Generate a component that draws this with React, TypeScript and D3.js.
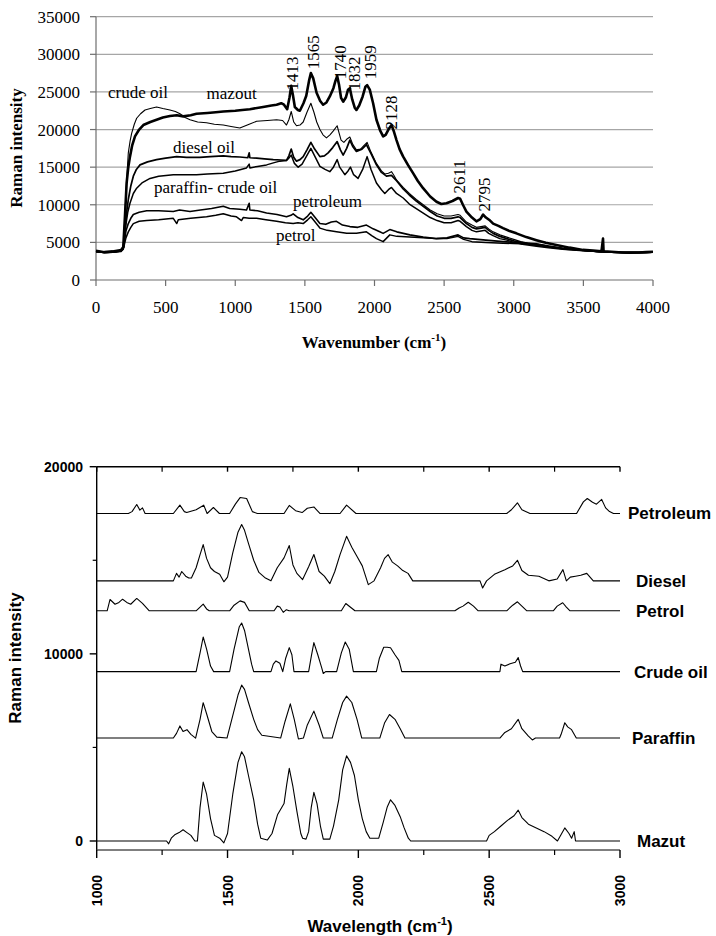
import React from "react";
import * as d3 from "d3";

type P = [number, number];

// ---------- Top chart: Raman intensity vs wavenumber ----------
const topXTicks = [0, 500, 1000, 1500, 2000, 2500, 3000, 3500, 4000];
const topYTicks = [0, 5000, 10000, 15000, 20000, 25000, 30000, 35000];

const mazoutTop: P[] = [[0,3900],[60,3700],[120,3800],[180,4000],[196,4400],[208,8500],[220,12900],[232,15000],[244,16400],[260,17900],[280,19100],[310,20000],[340,20600],[390,21000],[435,21300],[480,21600],[531,21800],[580,21900],[627,21750],[680,21900],[722,22100],[800,22200],[860,22300],[914,22400],[1000,22500],[1050,22600],[1105,22700],[1200,23000],[1260,23200],[1297,23300],[1330,23500],[1350,23300],[1373,22700],[1390,24300],[1402,25800],[1415,24500],[1428,23000],[1450,22600],[1464,22500],[1490,23500],[1510,24500],[1530,26500],[1543,27500],[1560,26800],[1584,24900],[1610,23800],[1631,23300],[1655,23600],[1679,24400],[1705,25500],[1720,26500],[1732,27100],[1745,26000],[1760,24200],[1775,23700],[1795,24300],[1810,25300],[1823,25500],[1840,24000],[1858,22900],[1870,22600],[1890,23200],[1915,24400],[1935,25700],[1947,25900],[1966,25300],[1990,23500],[2014,21300],[2040,19900],[2062,19100],[2080,19300],[2100,20000],[2122,20600],[2140,19700],[2158,18600],[2180,17400],[2206,16400],[2240,15300],[2277,14200],[2310,13200],[2349,12200],[2400,11100],[2445,10400],[2480,10100],[2517,10200],[2560,10500],[2600,10900],[2615,10800],[2635,10000],[2660,9100],[2700,8300],[2732,7800],[2760,8100],[2780,8700],[2800,8300],[2830,7900],[2852,7500],[2890,7200],[2923,6900],[2970,6500],[3019,6200],[3090,5700],[3163,5300],[3230,4950],[3306,4660],[3400,4300],[3497,4000],[3570,3900],[3630,3800],[3641,5500],[3645,3800],[3700,3750],[3780,3650],[3832,3640],[3900,3650],[3950,3700],[4000,3750]];

const crudeTop: P[] = [[0,3850],[60,3650],[120,3750],[180,3950],[196,4400],[205,7500],[215,11500],[225,14800],[232,16900],[245,18500],[256,19500],[275,20700],[292,21500],[320,22100],[352,22600],[390,22800],[435,23000],[480,22800],[531,22600],[570,22400],[603,22100],[640,21600],[675,21300],[730,21000],[794,20900],[850,20700],[914,20600],[970,20400],[1033,20200],[1100,20700],[1153,21100],[1230,21200],[1297,21300],[1340,21200],[1368,20600],[1385,21300],[1402,22400],[1420,21000],[1440,20500],[1465,20600],[1488,21000],[1515,22300],[1543,23500],[1565,22300],[1585,21000],[1608,20000],[1630,19300],[1655,18900],[1680,19300],[1703,19800],[1732,20500],[1745,19600],[1760,18600],[1780,18300],[1800,18700],[1823,19000],[1845,18000],[1870,17300],[1900,17400],[1925,17900],[1947,18300],[1975,17000],[2014,15500],[2050,14500],[2074,14100],[2100,14200],[2122,14400],[2140,13900],[2158,13300],[2206,12300],[2250,11500],[2300,10700],[2350,10000],[2400,9300],[2450,8800],[2500,8500],[2550,8500],[2600,8700],[2615,8600],[2660,7700],[2700,7300],[2732,7000],[2765,7100],[2795,7200],[2820,6800],[2852,6400],[2900,6000],[2950,5700],[3000,5400],[3050,5100],[3100,4900],[3163,4700],[3250,4450],[3350,4200],[3500,3950],[3600,3800],[3700,3700],[3800,3650],[3900,3650],[4000,3700]];

const dieselTop: P[] = [[0,3800],[60,3700],[120,3750],[180,3900],[196,4300],[210,7000],[220,9000],[232,10700],[250,12500],[268,13800],[290,14700],[316,15300],[370,15700],[435,16000],[500,16200],[579,16400],[650,16300],[746,16300],[820,16400],[914,16500],[970,16400],[1033,16350],[1090,16250],[1100,16900],[1105,16250],[1153,16200],[1210,16100],[1273,16000],[1330,15950],[1368,15900],[1385,16500],[1402,17400],[1420,16300],[1440,15800],[1465,16000],[1488,16400],[1515,17300],[1543,18300],[1570,17400],[1608,16400],[1640,16500],[1667,16900],[1700,17600],[1732,18400],[1755,17300],[1775,16600],[1800,17500],[1823,18600],[1845,17700],[1870,17100],[1910,17400],[1942,18000],[1975,16800],[2014,15300],[2050,14300],[2086,13800],[2122,13900],[2158,13200],[2206,12100],[2250,11300],[2300,10500],[2350,9800],[2400,9100],[2450,8500],[2500,8200],[2550,8200],[2600,8400],[2615,8300],[2660,7500],[2700,7000],[2732,6800],[2765,6900],[2795,7000],[2820,6600],[2852,6200],[2900,5800],[2950,5500],[3000,5200],[3050,5000],[3100,4800],[3163,4600],[3250,4400],[3350,4150],[3500,3950],[3600,3800],[3700,3700],[3800,3650],[3900,3650],[4000,3700]];

const paraffinTop: P[] = [[0,3800],[60,3650],[120,3700],[180,3850],[196,4200],[212,7000],[228,9000],[244,10200],[268,11500],[292,12200],[330,12900],[388,13500],[450,13800],[555,14000],[640,14000],[722,14000],[800,14100],[914,14200],[1000,14500],[1081,14900],[1100,15400],[1105,14900],[1160,15100],[1225,15300],[1280,15600],[1320,15800],[1368,15900],[1385,16200],[1402,16600],[1425,15500],[1452,15000],[1480,15400],[1510,16400],[1543,17500],[1570,16500],[1608,15100],[1645,14700],[1679,14400],[1705,15000],[1732,16000],[1750,15000],[1787,14000],[1810,14500],[1827,15000],[1850,14000],[1882,13500],[1915,14700],[1947,16400],[1975,14700],[2014,12900],[2050,12000],[2074,11500],[2100,12000],[2122,12300],[2140,11900],[2158,11500],[2206,10900],[2250,10100],[2300,9500],[2350,8900],[2400,8300],[2450,7900],[2500,7600],[2550,7600],[2600,7900],[2615,7800],[2660,7100],[2700,6600],[2732,6400],[2765,6500],[2795,6600],[2820,6200],[2852,5900],[2900,5500],[2950,5300],[3000,5000],[3050,4800],[3100,4650],[3163,4500],[3250,4300],[3350,4100],[3500,3900],[3600,3800],[3700,3700],[3800,3650],[3900,3650],[4000,3700]];

const petroleumTop: P[] = [[0,3750],[60,3650],[120,3700],[180,3850],[196,4200],[215,6500],[232,7500],[250,8200],[268,8700],[310,9000],[364,9200],[450,9200],[555,9100],[600,9300],[675,9100],[750,9300],[830,9500],[914,9800],[960,9500],[1033,9400],[1081,9300],[1100,10200],[1105,9300],[1160,9200],[1225,8900],[1300,8700],[1368,8400],[1400,8600],[1416,8800],[1450,8300],[1488,8000],[1520,8500],[1543,9000],[1565,8500],[1608,7500],[1650,7400],[1690,7700],[1727,7800],[1770,7300],[1823,7100],[1880,7000],[1942,7300],[1990,6800],[2038,6400],[2062,6200],[2110,6700],[2160,6400],[2254,6000],[2350,5700],[2445,5500],[2520,5600],[2600,6000],[2640,5600],[2684,5500],[2800,5300],[2923,5100],[3000,5000],[3163,4800],[3250,4500],[3350,4200],[3500,3950],[3600,3800],[3700,3700],[3800,3650],[3900,3650],[4000,3700]];

const petrolTop: P[] = [[0,3750],[60,3650],[120,3700],[180,3800],[196,4100],[215,5600],[232,6400],[250,7000],[268,7500],[310,7800],[364,7900],[450,8000],[555,8200],[580,7500],[591,8000],[680,8200],[794,8400],[860,8600],[914,8800],[970,8500],[1009,8400],[1045,7900],[1057,8300],[1100,8200],[1153,8200],[1220,8000],[1297,7800],[1360,7600],[1416,7500],[1450,7600],[1488,7500],[1520,8000],[1543,8400],[1565,7900],[1608,6900],[1660,6600],[1727,6400],[1800,6200],[1870,6200],[1942,6400],[1980,5900],[2014,5500],[2062,5100],[2110,6000],[2160,5800],[2254,5700],[2350,5600],[2445,5500],[2520,5500],[2600,5800],[2640,5400],[2700,5100],[2800,5000],[2923,4900],[3000,4850],[3163,4750],[3250,4500],[3350,4200],[3500,3950],[3600,3800],[3700,3700],[3800,3650],[3900,3650],[4000,3700]];

const topSeries = [
  { name: "mazout", data: mazoutTop, width: 2.6 },
  { name: "crude oil", data: crudeTop, width: 1.1 },
  { name: "diesel oil", data: dieselTop, width: 1.7 },
  { name: "paraffin- crude oil", data: paraffinTop, width: 1.5 },
  { name: "petroleum", data: petroleumTop, width: 1.6 },
  { name: "petrol", data: petrolTop, width: 1.5 },
];

// label text, anchor in data space [wavenumber, intensity]
const topLabels: { text: string; at: P }[] = [
  { text: "crude oil", at: [86, 24200] },
  { text: "mazout", at: [794, 24100] },
  { text: "diesel oil", at: [553, 16900] },
  { text: "paraffin- crude oil", at: [416, 11600] },
  { text: "petroleum", at: [1415, 9700] },
  { text: "petrol", at: [1292, 5200] },
];

// peak annotations: [peak wavenumber, label x (cm-1), label bottom (intensity)]
const peakLabels = [1413, 1565, 1740, 1832, 1959, 2128, 2611, 2795];
const peakLabelX = [1405, 1555, 1753, 1853, 1966, 2122, 2604, 2785];
const peakLabelY = [25200, 28000, 26700, 25200, 26700, 20000, 11500, 9100];

// ---------- Bottom chart: offset spectra ----------
const botXMajor = [1000, 1500, 2000, 2500, 3000];
const botXMinor = [1250, 1750, 2250, 2750];
const botYMajor = [0, 10000, 20000];
const botYMinor = [5000, 15000];

const mazutBot: P[] = [[1000,0],[1267,0],[1275,-150],[1285,150],[1300,350],[1315,450],[1330,600],[1345,450],[1360,300],[1375,0],[1385,0],[1395,1800],[1407,3150],[1420,2500],[1435,1200],[1450,300],[1470,150],[1486,-100],[1500,400],[1520,2500],[1540,4200],[1554,4770],[1565,4500],[1580,3500],[1600,2200],[1615,900],[1627,150],[1652,50],[1670,400],[1691,1400],[1716,2000],[1726,3000],[1736,3880],[1750,2900],[1765,1600],[1780,400],[1787,150],[1800,100],[1810,500],[1820,1800],[1830,2600],[1842,2000],[1855,800],[1866,100],[1891,100],[1905,800],[1925,2200],[1940,3800],[1955,4550],[1970,4200],[1985,3500],[2000,2200],[2015,1200],[2030,500],[2044,150],[2078,150],[2095,1000],[2110,1800],[2123,2200],[2140,1900],[2160,1300],[2175,700],[2191,150],[2200,0],[2490,0],[2500,300],[2520,500],[2545,800],[2570,1100],[2595,1350],[2611,1650],[2625,1250],[2650,900],[2680,700],[2710,500],[2740,250],[2761,0],[2775,350],[2789,700],[2805,400],[2815,150],[2825,500],[2830,0],[3000,0]];

const paraffinBot: P[] = [[1000,0],[1293,0],[1305,250],[1318,650],[1330,350],[1345,450],[1360,200],[1378,0],[1395,1000],[1407,1890],[1420,1300],[1440,350],[1459,50],[1498,0],[1520,1200],[1540,2300],[1554,2830],[1565,2600],[1580,1900],[1600,1000],[1615,450],[1631,150],[1703,0],[1720,900],[1740,1830],[1755,1000],[1771,-50],[1790,0],[1805,700],[1830,1440],[1850,700],[1866,0],[1900,0],[1920,1000],[1940,1900],[1955,2240],[1975,1900],[1995,1000],[2013,0],[2082,0],[2100,800],[2119,1260],[2140,1000],[2160,500],[2178,0],[2541,0],[2560,300],[2585,500],[2611,1000],[2625,500],[2650,100],[2665,-100],[2677,0],[2769,0],[2775,200],[2789,820],[2800,600],[2815,450],[2833,0],[3000,0]];

const crudeBot: P[] = [[1000,0],[1380,0],[1395,1000],[1407,1850],[1420,1200],[1435,300],[1447,0],[1508,0],[1525,1200],[1545,2400],[1554,2600],[1565,2200],[1580,1200],[1592,400],[1600,0],[1666,0],[1675,400],[1685,570],[1700,450],[1711,0],[1722,700],[1736,1280],[1746,900],[1754,0],[1810,0],[1820,800],[1830,1550],[1845,900],[1860,200],[1866,-100],[1875,0],[1917,0],[1935,1000],[1950,1580],[1965,1200],[1981,0],[2069,0],[2080,700],[2097,1300],[2110,1300],[2123,1280],[2140,900],[2155,600],[2166,0],[2541,0],[2545,400],[2560,300],[2580,420],[2600,500],[2611,750],[2620,300],[2628,0],[3000,0]];

const petrolBot: P[] = [[1000,0],[1040,0],[1051,605],[1070,350],[1085,450],[1099,620],[1115,450],[1130,350],[1153,660],[1175,400],[1201,0],[1380,0],[1395,200],[1407,355],[1420,100],[1430,0],[1508,0],[1525,300],[1548,530],[1565,450],[1583,0],[1678,0],[1690,250],[1700,200],[1713,-80],[1725,60],[1735,0],[1935,0],[1952,390],[1987,0],[2369,0],[2385,150],[2400,250],[2420,460],[2440,250],[2458,0],[2567,0],[2590,300],[2608,480],[2625,250],[2644,0],[2745,0],[2760,250],[2781,430],[2795,200],[2809,0],[3000,0]];

const dieselBot: P[] = [[1000,0],[1293,0],[1305,400],[1315,200],[1325,500],[1340,250],[1352,150],[1362,150],[1380,700],[1395,1400],[1407,1940],[1420,1200],[1435,700],[1450,500],[1470,350],[1486,-50],[1500,200],[1520,1500],[1540,2600],[1554,3010],[1565,2700],[1580,2000],[1600,1100],[1620,450],[1645,150],[1666,0],[1690,700],[1716,1230],[1736,1890],[1750,850],[1765,400],[1787,70],[1810,750],[1830,1410],[1850,500],[1870,250],[1891,-150],[1910,500],[1930,1400],[1955,2380],[1975,1800],[1995,1300],[2015,800],[2038,-200],[2060,0],[2085,700],[2100,1200],[2114,1400],[2130,1000],[2150,800],[2170,550],[2190,400],[2208,0],[2465,0],[2475,-380],[2490,0],[2520,350],[2560,600],[2590,800],[2608,1100],[2625,550],[2650,300],[2690,250],[2728,0],[2760,100],[2782,600],[2795,0],[2810,200],[2830,250],[2850,300],[2873,400],[2898,0],[3000,0]];

const petroleumBot: P[] = [[1000,0],[1121,0],[1135,100],[1153,480],[1165,180],[1175,300],[1185,0],[1293,0],[1318,445],[1335,100],[1344,50],[1380,200],[1409,445],[1422,0],[1446,320],[1469,0],[1508,0],[1530,500],[1548,850],[1573,800],[1595,100],[1614,0],[1716,0],[1736,430],[1760,150],[1785,50],[1805,280],[1830,350],[1853,0],[1930,0],[1955,445],[1991,0],[2567,0],[2585,200],[2608,570],[2625,200],[2656,0],[2834,0],[2860,620],[2875,800],[2895,600],[2910,500],[2930,750],[2945,300],[2960,100],[2975,0],[3000,0]];

const botNames = ["Petroleum", "Diesel", "Petrol", "Crude oil", "Paraffin", "Mazut"];
const botOffsets = [17500, 13900, 12300, 9050, 5500, 0];
const botData = [petroleumBot, dieselBot, petrolBot, crudeBot, paraffinBot, mazutBot];
const botLabelX = [628, 636, 636, 634, 632, 637];

export default function App() {
  // top scales
  const xT = d3.scaleLinear().domain([0, 4000]).range([96, 653]);
  const yT = d3.scaleLinear().domain([0, 35000]).range([280, 16.7]);
  const lineT = d3.line<P>().x((d) => xT(d[0])).y((d) => yT(d[1]));

  // bottom scales
  const xB = d3.scaleLinear().domain([1000, 3000]).range([96.7, 620]);
  const yB = d3.scaleLinear().domain([0, 20000]).range([841, 466.7]);
  const yBFloor = yB(-480);
  const lineB = d3.line<P>().x((d) => xB(d[0])).y((d) => yB(d[1]));

  const serif = "'Liberation Serif', 'Times New Roman', 'DejaVu Serif', serif";
  const sans = "'Liberation Sans', Arial, sans-serif";

  return (
    <svg width={716} height={936} style={{ position: "absolute", left: 0, top: 0, background: "#fff" }}>
      <rect x={0} y={0} width={716} height={936} fill="#fff" />
      {/* ===== TOP CHART ===== */}
      <g>
        {topYTicks.filter((t) => t > 0).map((t) => (
          <line key={"g" + t} x1={xT(0)} x2={xT(4000)} y1={yT(t)} y2={yT(t)} stroke="#a6a6a6" strokeWidth={1.2} />
        ))}
        <line x1={xT(0)} x2={xT(0)} y1={yT(0)} y2={yT(35000)} stroke="#6e6e6e" strokeWidth={1.2} />
        <line x1={xT(0)} x2={xT(4000)} y1={yT(0)} y2={yT(0)} stroke="#6e6e6e" strokeWidth={1.2} />
        {topYTicks.map((t) => (
          <g key={"yt" + t}>
            <line x1={xT(0) - 6} x2={xT(0)} y1={yT(t)} y2={yT(t)} stroke="#6e6e6e" strokeWidth={1.2} />
            <text x={80} y={yT(t) + 6} textAnchor="end" fontFamily={serif} fontSize={17} fill="#000">{t}</text>
          </g>
        ))}
        {topXTicks.map((t) => (
          <g key={"xt" + t}>
            <line x1={xT(t)} x2={xT(t)} y1={yT(0)} y2={yT(0) + 6} stroke="#6e6e6e" strokeWidth={1.2} />
            <text x={xT(t)} y={313} textAnchor="middle" fontFamily={serif} fontSize={17} fill="#000">{t}</text>
          </g>
        ))}
        <text x={374} y={348} textAnchor="middle" fontFamily={serif} fontSize={17} fontWeight="bold" fill="#000">
          Wavenumber (cm<tspan dy={-7} fontSize={11}>-1</tspan><tspan dy={7}>)</tspan>
        </text>
        <text transform={`translate(22,148) rotate(-90)`} textAnchor="middle" fontFamily={serif} fontSize={17} fontWeight="bold" fill="#000">
          Raman intensity
        </text>
        {topSeries.map((s) => (
          <path key={s.name} d={lineT(s.data) || ""} fill="none" stroke="#000" strokeWidth={s.width} strokeLinejoin="round" />
        ))}
        {topLabels.map((l) => (
          <text key={l.text} x={xT(l.at[0])} y={yT(l.at[1])} fontFamily={serif} fontSize={17} fill="#000">{l.text}</text>
        ))}
        {peakLabels.map((p, i) => (
          <text key={"pk" + p} transform={`translate(${xT(peakLabelX[i]) + 6},${yT(peakLabelY[i])}) rotate(-90)`} fontFamily={serif} fontSize={17} fill="#000">{p}</text>
        ))}
      </g>

      {/* ===== BOTTOM CHART ===== */}
      <g>
        <line x1={xB(1000)} x2={xB(3000)} y1={yB(20000)} y2={yB(20000)} stroke="#000" strokeWidth={1.4} />
        <line x1={xB(1000)} x2={xB(1000)} y1={yB(20000)} y2={yBFloor} stroke="#000" strokeWidth={1.4} />
        <line x1={xB(1000)} x2={xB(3000)} y1={yBFloor} y2={yBFloor} stroke="#555" strokeWidth={1.4} />
        {botXMajor.map((t) => (
          <g key={"bx" + t}>
            <line x1={xB(t)} x2={xB(t)} y1={yB(20000)} y2={yB(20000) + 5} stroke="#000" strokeWidth={1.4} />
            <line x1={xB(t)} x2={xB(t)} y1={yBFloor} y2={yBFloor + 8} stroke="#000" strokeWidth={1.4} />
            <text transform={`translate(${xB(t) + 5},875) rotate(-90)`} textAnchor="end" fontFamily={sans} fontSize={14} fontWeight="bold" fill="#000">{t}</text>
          </g>
        ))}
        {botXMinor.map((t) => (
          <g key={"bxm" + t}>
            <line x1={xB(t)} x2={xB(t)} y1={yB(20000)} y2={yB(20000) + 5} stroke="#000" strokeWidth={1.2} />
            <line x1={xB(t)} x2={xB(t)} y1={yBFloor} y2={yBFloor + 5} stroke="#000" strokeWidth={1.2} />
          </g>
        ))}
        {botYMajor.map((t) => (
          <g key={"by" + t}>
            <line x1={xB(1000) - 7} x2={xB(1000)} y1={yB(t)} y2={yB(t)} stroke="#000" strokeWidth={1.4} />
            <text x={83} y={yB(t) + 5} textAnchor="end" fontFamily={sans} fontSize={14} fontWeight="bold" fill="#000">{t}</text>
          </g>
        ))}
        {botYMinor.map((t) => (
          <line key={"bym" + t} x1={xB(1000) - 4} x2={xB(1000)} y1={yB(t)} y2={yB(t)} stroke="#000" strokeWidth={1.2} />
        ))}
        {botData.map((data, i) => (
          <path key={"bs" + i} d={lineB(data.map((d) => [d[0], d[1] + botOffsets[i]] as P)) || ""} fill="none" stroke="#000" strokeWidth={1.1} strokeLinejoin="round" />
        ))}
        {botNames.map((n, i) => (
          <text key={"bn" + n} x={botLabelX[i]} y={yB(botOffsets[i]) + 6} fontFamily={sans} fontSize={17} fontWeight="bold" fill="#000">{n}</text>
        ))}
        <text x={380} y={932} textAnchor="middle" fontFamily={sans} fontSize={17} fontWeight="bold" fill="#000">
          Wavelength (cm<tspan dy={-7} fontSize={11}>-1</tspan><tspan dy={7}>)</tspan>
        </text>
        <text transform={`translate(21,658) rotate(-90)`} textAnchor="middle" fontFamily={sans} fontSize={17} fontWeight="bold" fill="#000">
          Raman intensity
        </text>
      </g>
    </svg>
  );
}
